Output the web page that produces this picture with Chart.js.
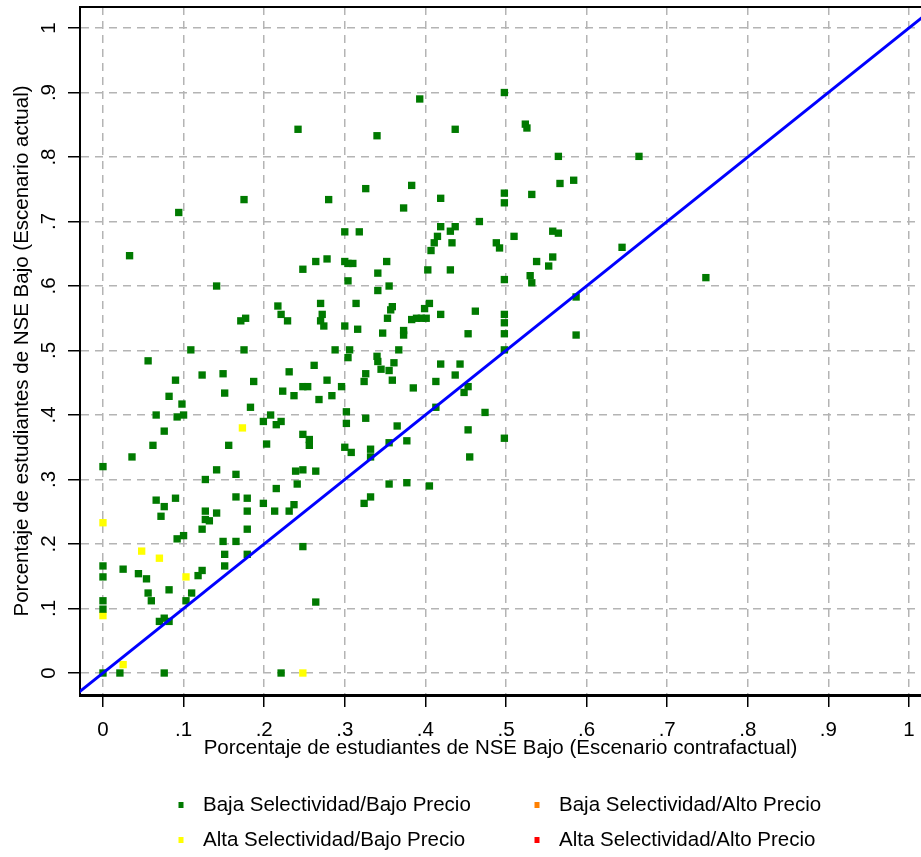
<!DOCTYPE html>
<html>
<head>
<meta charset="utf-8">
<script src="https://cdn.jsdelivr.net/npm/chart.js@4.4.1/dist/chart.umd.min.js"></script>
<style>
  body { margin: 0; background: #fff; }
  canvas { display: block; }
</style>
</head>
<body>
<canvas id="myScatter" width="921" height="857"></canvas>
<script>
// Baja Selectividad/Bajo Precio
var greenX = [
  0.033, 0.094, 0.141, 0.175, 0.171, 0.177, 0.175, 0.109, 0.056, 0.242,
  0.248, 0.264, 0.278, 0.280, 0.217, 0.221, 0.229, 0.270, 0.272, 0.270,
  0.274, 0.288, 0.300, 0.318, 0.326, 0.340, 0.300, 0.304, 0.310, 0.304,
  0.300, 0.314, 0.316, 0.306, 0.304, 0.341, 0.341, 0.352, 0.355, 0.359,
  0.357, 0.353, 0.347, 0.340, 0.373, 0.373, 0.367, 0.373, 0.383, 0.393,
  0.383, 0.389, 0.395, 0.401, 0.399, 0.405, 0.403, 0.407, 0.411, 0.415,
  0.419, 0.419, 0.419, 0.431, 0.437, 0.433, 0.431, 0.437, 0.498, 0.524,
  0.526, 0.565, 0.665, 0.584, 0.567, 0.532, 0.498, 0.498, 0.467, 0.510,
  0.488, 0.492, 0.558, 0.565, 0.538, 0.558, 0.553, 0.530, 0.532, 0.498,
  0.644, 0.748, 0.587, 0.587, 0.462, 0.453, 0.498, 0.498, 0.498, 0.498,
  0.123, 0.149, 0.151, 0.090, 0.082, 0.098, 0.092, 0.100, 0.066, 0.076,
  0.062, 0.036, 0.000, 0.187, 0.231, 0.183, 0.199, 0.208, 0.215, 0.221,
  0.203, 0.156, 0.141, 0.165, 0.127, 0.066, 0.076, 0.072, 0.090, 0.127,
  0.127, 0.132, 0.141, 0.123, 0.092, 0.100, 0.165, 0.179, 0.179, 0.179,
  0.149, 0.165, 0.151, 0.151, 0.179, 0.118, 0.123, 0.103, 0.110, 0.082,
  0.025, 0.044, 0.054, 0.056, 0.060, 0.070, 0.076, 0.082, 0.000, 0.000,
  0.000, 0.000, 0.000, 0.021, 0.076, 0.221, 0.248, 0.264, 0.215, 0.199,
  0.213, 0.231, 0.237, 0.241, 0.239, 0.248, 0.264, 0.248, 0.256, 0.256,
  0.237, 0.223, 0.248, 0.254, 0.262, 0.268, 0.278, 0.284, 0.296, 0.302,
  0.302, 0.300, 0.308, 0.326, 0.324, 0.332, 0.332, 0.332, 0.355, 0.377,
  0.405, 0.355, 0.365, 0.377, 0.413, 0.324, 0.326, 0.341, 0.345, 0.355,
  0.359, 0.361, 0.385, 0.419, 0.413, 0.437, 0.453, 0.448, 0.474, 0.453,
  0.498, 0.455, 0.443
];
var greenY = [
  0.647, 0.714, 0.600, 0.734, 0.546, 0.550, 0.501, 0.501, 0.484, 0.843,
  0.626, 0.638, 0.642, 0.734, 0.569, 0.556, 0.546, 0.573, 0.556, 0.546,
  0.538, 0.501, 0.684, 0.684, 0.751, 0.833, 0.638, 0.635, 0.635, 0.608,
  0.538, 0.573, 0.533, 0.501, 0.489, 0.620, 0.593, 0.638, 0.600, 0.568,
  0.563, 0.550, 0.527, 0.491, 0.531, 0.524, 0.501, 0.721, 0.756, 0.890,
  0.548, 0.550, 0.550, 0.550, 0.565, 0.573, 0.625, 0.655, 0.667, 0.677,
  0.736, 0.692, 0.556, 0.685, 0.692, 0.667, 0.625, 0.843, 0.900, 0.851,
  0.845, 0.801, 0.801, 0.764, 0.759, 0.742, 0.744, 0.729, 0.700, 0.677,
  0.667, 0.659, 0.685, 0.682, 0.638, 0.645, 0.631, 0.616, 0.605, 0.610,
  0.660, 0.613, 0.583, 0.524, 0.561, 0.526, 0.556, 0.543, 0.526, 0.501,
  0.462, 0.464, 0.434, 0.454, 0.429, 0.417, 0.397, 0.400, 0.400, 0.375,
  0.353, 0.335, 0.320, 0.452, 0.467, 0.412, 0.390, 0.400, 0.385, 0.390,
  0.355, 0.353, 0.315, 0.308, 0.300, 0.268, 0.258, 0.243, 0.271, 0.251,
  0.238, 0.236, 0.248, 0.223, 0.208, 0.213, 0.273, 0.271, 0.251, 0.223,
  0.204, 0.204, 0.184, 0.166, 0.184, 0.151, 0.159, 0.112, 0.124, 0.129,
  0.161, 0.154, 0.146, 0.124, 0.112, 0.080, 0.085, 0.080, 0.166, 0.149,
  0.112, 0.099, 0.000, 0.000, 0.000, 0.000, 0.196, 0.110, 0.286, 0.263,
  0.251, 0.251, 0.261, 0.293, 0.313, 0.315, 0.313, 0.370, 0.362, 0.353,
  0.430, 0.437, 0.444, 0.444, 0.477, 0.424, 0.454, 0.430, 0.444, 0.405,
  0.387, 0.350, 0.342, 0.395, 0.263, 0.273, 0.347, 0.335, 0.293, 0.295,
  0.290, 0.357, 0.383, 0.360, 0.412, 0.452, 0.464, 0.483, 0.471, 0.469,
  0.454, 0.481, 0.442, 0.479, 0.452, 0.462, 0.444, 0.435, 0.404, 0.377,
  0.364, 0.335, 0.479
];

// Alta Selectividad/Bajo Precio
var yellowX = [0.173, 0.103, 0.048, 0.070, 0.000, 0.000, 0.025, 0.248];
var yellowY = [0.380, 0.149, 0.189, 0.178, 0.233, 0.089, 0.013, 0.000];

// Baja Selectividad/Alto Precio, Alta Selectividad/Alto Precio (no visible points)
var orangeX = [];
var orangeY = [];
var redX = [];
var redY = [];

// 45 degree line
var diagX = [-0.04, 1.03];
var diagY = [-0.04, 1.03];

var tickValues = [0, 0.1, 0.2, 0.3, 0.4, 0.5, 0.6, 0.7, 0.8, 0.9, 1];
var tickLabels = ['0', '.1', '.2', '.3', '.4', '.5', '.6', '.7', '.8', '.9', '1'];

var seriesLabels = [
  'Baja Selectividad/Bajo Precio',
  'Baja Selectividad/Alto Precio',
  'Alta Selectividad/Bajo Precio',
  'Alta Selectividad/Alto Precio'
];

var FONT = "'Liberation Sans', Arial, sans-serif";

function toPoints(xs, ys) {
  var pts = [];
  for (var i = 0; i < xs.length; i++) {
    pts.push({ x: xs[i], y: ys[i] });
  }
  return pts;
}

function scatterSet(label, color, xs, ys) {
  return {
    type: 'scatter',
    label: label,
    data: toPoints(xs, ys),
    pointStyle: 'rect',
    pointRadius: 5.2,
    pointBorderWidth: 0,
    backgroundColor: color,
    borderColor: color,
    order: 1
  };
}

// no extra room around the plot region
function noPadding(scale) {
  scale.paddingTop = 0;
  scale.paddingBottom = 0;
  scale.paddingLeft = 0;
  scale.paddingRight = 0;
}

// legend (2 x 2) and the upper frame line
var stataLegend = {
  id: 'stataLegend',
  afterDraw: function(chart) {
    var ctx = chart.ctx;
    var area = chart.chartArea;
    ctx.save();
    ctx.strokeStyle = '#000';
    ctx.lineWidth = 2;
    ctx.beginPath();
    ctx.moveTo(area.left, area.top);
    ctx.lineTo(area.right, area.top);
    ctx.stroke();

    var cols = [181, 537];
    var rows = [805, 840];
    ctx.font = '20.5px ' + FONT;
    ctx.textBaseline = 'middle';
    ctx.textAlign = 'left';
    var sets = chart.data.datasets.filter(function(d) { return d.type === 'scatter'; });
    sets.forEach(function(ds, i) {
      var cx = cols[i % 2];
      var cy = rows[Math.floor(i / 2)];
      ctx.fillStyle = ds.backgroundColor;
      ctx.fillRect(cx - 2.5, cy - 3, 5, 6);
      ctx.fillStyle = '#000';
      ctx.fillText(ds.label, cx + 22, cy);
    });
    ctx.restore();
  }
};

var ctx = document.getElementById('myScatter').getContext('2d');
var myChart = new Chart(ctx, {
  type: 'scatter',
  data: {
    datasets: [
      {
        type: 'line',
        label: 'diag',
        data: toPoints(diagX, diagY),
        borderColor: '#0000ff',
        borderWidth: 3,
        pointRadius: 0,
        fill: false,
        order: 0
      },
      scatterSet(seriesLabels[0], '#007a00', greenX, greenY),
      scatterSet(seriesLabels[1], '#ff8000', orangeX, orangeY),
      scatterSet(seriesLabels[2], '#ffff00', yellowX, yellowY),
      scatterSet(seriesLabels[3], '#ff0000', redX, redY)
    ]
  },
  options: {
    responsive: false,
    devicePixelRatio: 1,
    animation: false,
    events: [],
    layout: { autoPadding: false, padding: { top: 7, left: 0, right: 0, bottom: 0 } },
    plugins: {
      legend: { display: false },
      tooltip: { enabled: false }
    },
    scales: {
      x: {
        type: 'linear',
        min: -0.0285,
        max: 1.0149,
        afterBuildTicks: function(scale) {
          scale.ticks = tickValues.map(function(v) { return { value: v }; });
        },
        afterFit: function(scale) {
          scale.height = 162;
          noPadding(scale);
        },
        ticks: {
          callback: function(v, i) { return tickLabels[i]; },
          autoSkip: false,
          maxRotation: 0,
          padding: 10.7,
          color: '#000',
          font: { family: FONT, size: 20.5 }
        },
        grid: {
          color: '#b4b4b4',
          lineWidth: 1.5,
          tickLength: 12,
          tickColor: '#000',
          tickWidth: 1.5
        },
        border: { color: '#000', width: 3, dash: [8, 6] },
        title: {
          display: true,
          text: 'Porcentaje de estudiantes de NSE Bajo (Escenario contrafactual)',
          color: '#000',
          font: { family: FONT, size: 20.5 },
          padding: { top: 0, bottom: 96 }
        }
      },
      y: {
        type: 'linear',
        min: -0.0341,
        max: 1.0326,
        afterBuildTicks: function(scale) {
          scale.ticks = tickValues.map(function(v) { return { value: v }; });
        },
        afterFit: function(scale) {
          scale.width = 80;
          noPadding(scale);
        },
        ticks: {
          callback: function(v, i) { return tickLabels[i]; },
          autoSkip: false,
          minRotation: 90,
          maxRotation: 90,
          crossAlign: 'center',
          padding: 10,
          color: '#000',
          font: { family: FONT, size: 20.5 }
        },
        grid: {
          color: '#b4b4b4',
          lineWidth: 1.5,
          tickLength: 12,
          tickColor: '#000',
          tickWidth: 1.5
        },
        border: { color: '#000', width: 2, dash: [8, 6] },
        title: {
          display: true,
          text: 'Porcentaje de estudiantes de NSE Bajo (Escenario actual)',
          color: '#000',
          font: { family: FONT, size: 20.5 },
          padding: { top: 9.7, bottom: 0 }
        }
      }
    }
  },
  plugins: [stataLegend]
});
</script>
</body>
</html>
